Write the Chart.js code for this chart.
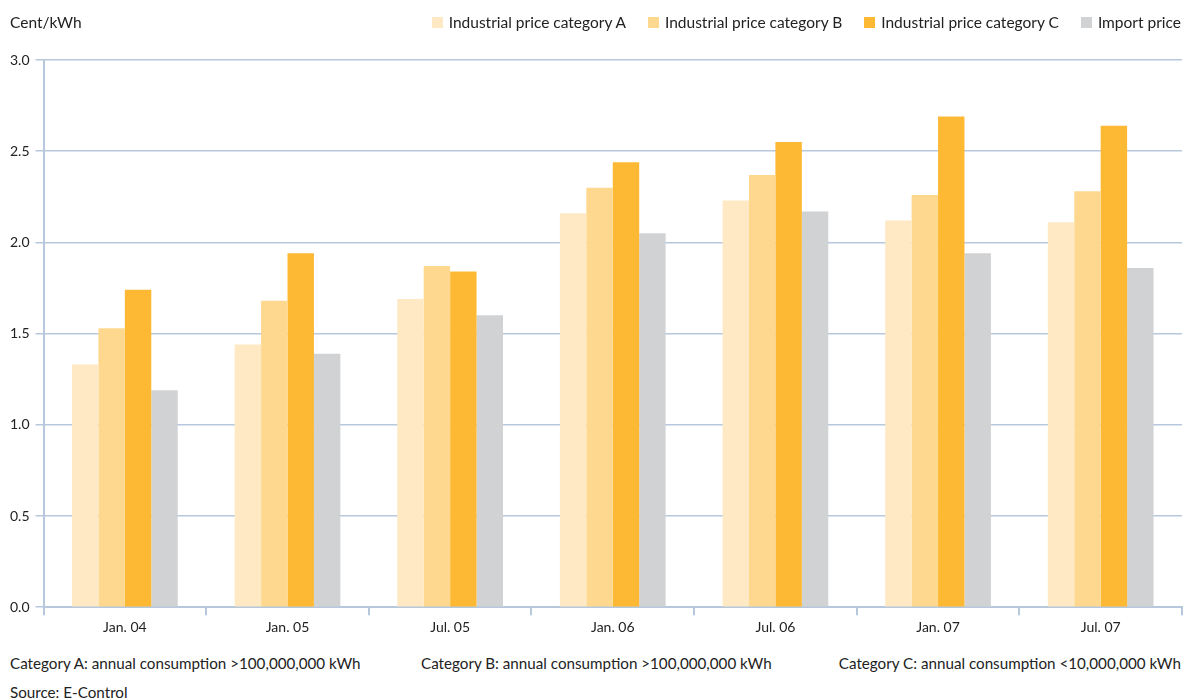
<!DOCTYPE html>
<html>
<head>
<meta charset="utf-8">
<script src="https://cdn.jsdelivr.net/npm/chart.js@4/dist/chart.umd.min.js"></script>
<style>
  body { margin: 0; background: #fff; font-family: Lato, "Open Sans", sans-serif; color: #222; }
  #wrap { position: relative; width: 1185px; height: 700px; }
  #box { position: absolute; left: 0; top: 0; width: 1185px; height: 645px; }
  .txt { position: absolute; font-size: 15.5px; line-height: 18px; white-space: nowrap; }
  .note { font-size: 15.2px; }
  #legend { position: absolute; right: 4px; top: 13px; display: flex; font-size: 15.5px; line-height: 18px; }
  #legend .item { display: flex; align-items: center; margin-left: 22px; }
  #legend .sw { width: 11px; height: 11px; margin-right: 6px; }
</style>
</head>
<body>
<div id="wrap">
  <div id="box"><canvas id="chart"></canvas></div>
  <div class="txt" style="left:10px; top:13px;">Cent/kWh</div>
  <div id="legend"></div>
  <div class="txt note" style="left:10px; top:654px;">Category A: annual consumption &gt;100,000,000 kWh</div>
  <div class="txt note" style="left:421px; top:654px;">Category B: annual consumption &gt;100,000,000 kWh</div>
  <div class="txt note" style="right:4px; top:654px;">Category C: annual consumption &lt;10,000,000 kWh</div>
  <div class="txt note" style="left:10px; top:683px;">Source: E-Control</div>
</div>
<script>
const periods = ['Jan. 04', 'Jan. 05', 'Jul. 05', 'Jan. 06', 'Jul. 06', 'Jan. 07', 'Jul. 07'];
const categoryA = [1.33, 1.44, 1.69, 2.16, 2.23, 2.12, 2.11];
const categoryB = [1.53, 1.68, 1.87, 2.30, 2.37, 2.26, 2.28];
const categoryC = [1.74, 1.94, 1.84, 2.44, 2.55, 2.69, 2.64];
const importPrice = [1.19, 1.39, 1.60, 2.05, 2.17, 1.94, 1.86];

const gridBlue = '#b7c8dd';

const ctx = document.getElementById('chart').getContext('2d');
const chart = new Chart(ctx, {
  type: 'bar',
  data: {
    labels: periods,
    datasets: [
      { label: 'Industrial price category A', data: categoryA, backgroundColor: '#fee9c4' },
      { label: 'Industrial price category B', data: categoryB, backgroundColor: '#fed88f' },
      { label: 'Industrial price category C', data: categoryC, backgroundColor: '#fdb934' },
      { label: 'Import price', data: importPrice, backgroundColor: '#d1d2d4' },
    ],
  },
  options: {
    responsive: true,
    maintainAspectRatio: false,
    animation: false,
    layout: { padding: { left: 4, right: 3, top: 60, bottom: 5 } },
    datasets: { bar: { categoryPercentage: 0.65, barPercentage: 1.0 } },
    plugins: {
      tooltip: { enabled: false },
      legend: { display: false },
    },
    scales: {
      x: {
        grid: { display: true, drawOnChartArea: false, drawTicks: true, tickLength: 8, color: gridBlue, lineWidth: 2 },
        border: { color: gridBlue, width: 2 },
        ticks: { color: '#222', font: { family: 'Lato', size: 14 }, padding: 4 },
      },
      y: {
        min: 0,
        max: 3,
        ticks: {
          stepSize: 0.5,
          color: '#222',
          padding: 6,
          font: { family: 'Lato', size: 14 },
          callback: (v) => Number(v).toFixed(1),
        },
        grid: { color: gridBlue, lineWidth: 1.5, tickLength: 8 },
        border: { color: gridBlue, width: 2 },
      },
    },
  },
});

// legend in HTML, built from the datasets
const legend = document.getElementById('legend');
chart.data.datasets.forEach((ds) => {
  const item = document.createElement('div');
  item.className = 'item';
  item.innerHTML = '<span class="sw" style="background:' + ds.backgroundColor + '"></span>' + ds.label;
  legend.appendChild(item);
});
</script>
</body>
</html>
